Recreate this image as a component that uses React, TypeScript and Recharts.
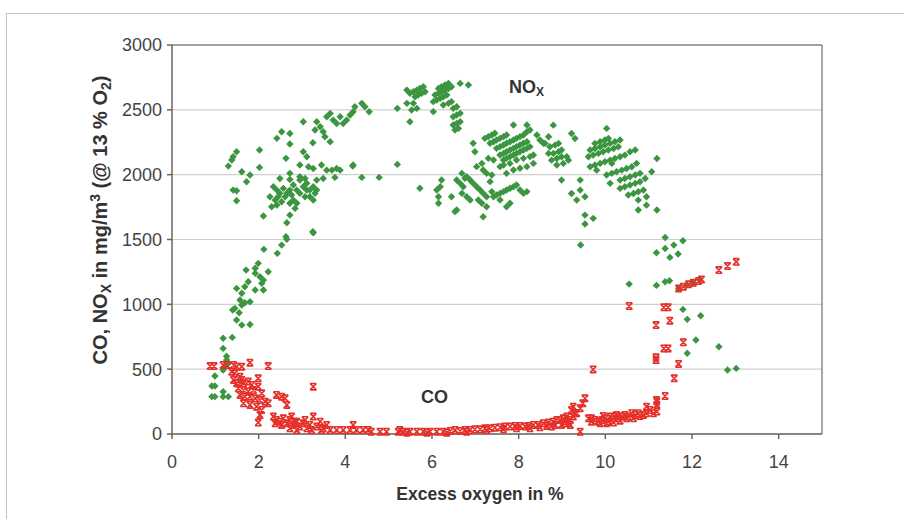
import { CartesianGrid, ReferenceLine, Scatter, ScatterChart, XAxis, YAxis } from "recharts";

// NOx readings [excess O2 %, mg/m3]
const noxLowArm = [
  [0.92, 370], [0.99, 370], [0.92, 288], [0.99, 288], [1.18, 326], [1.18, 288], [1.3, 288],
  [0.99, 447], [1.18, 493], [1.26, 570], [1.3, 545], [1.18, 660], [1.18, 738], [1.39, 745],
  [1.22, 520], [1.26, 600],
];
const noxRise = [
  [1.49, 879], [1.61, 840], [1.8, 845], [1.4, 956], [1.45, 969], [1.55, 935], [1.61, 995],
  [1.57, 1033], [1.68, 1012], [1.8, 1020], [1.49, 1123], [1.61, 1085], [1.68, 1136], [1.76, 1174],
  [1.71, 1264], [1.92, 1278], [1.99, 1316], [1.92, 1239], [2.03, 1213], [2.11, 1187], [2.07, 1162],
  [1.92, 1110], [2.11, 1110], [2.22, 1251], [2.12, 1424], [2.43, 1393], [2.53, 1457], [2.65, 1501],
  [3.26, 1552], [2.63, 1521], [2.65, 1629], [2.72, 1688], [2.11, 1681], [3.25, 1560],
];
const noxUpperLeft = [
  [1.3, 2066], [1.38, 2113], [1.49, 2177], [1.41, 2138], [1.61, 2022], [1.8, 1997], [1.72, 1945],
  [1.41, 1881], [1.49, 1876], [1.49, 1799], [2.02, 2190], [2.02, 2056], [2.42, 2280], [2.53, 2331],
  [2.72, 2318], [2.72, 2236], [2.63, 2126], [2.72, 2010], [3.03, 2408], [3.25, 2246], [3.03, 2177],
  [3.11, 2138], [2.95, 2074], [3.15, 2061], [3.34, 2408], [3.42, 2369], [3.3, 2344], [3.49, 2331],
  [3.57, 2447], [3.65, 2472], [3.72, 2421], [3.8, 2395], [3.88, 2447], [3.95, 2395], [4.03, 2421],
  [4.11, 2460], [4.18, 2485], [4.22, 2524], [4.38, 2550], [4.45, 2524], [3.53, 2292], [3.65, 2254],
  [4.55, 2485],
];
const noxLeftCluster = [
  [3.26, 2048], [3.45, 2074], [3.57, 2035], [3.69, 2035], [3.8, 2048], [3.88, 2035], [4.18, 2074],
  [4.38, 1979], [3.49, 1971], [3.76, 1979], [2.34, 1907], [2.42, 1881], [2.49, 1856], [2.57, 1894],
  [2.65, 1856], [2.72, 1881], [2.8, 1920], [2.88, 1881], [2.95, 1958], [3.03, 1907], [3.11, 1933],
  [3.18, 1881], [3.26, 1907], [3.34, 1881], [3.18, 1830], [3.26, 1804], [2.38, 1804], [2.45, 1830],
  [2.53, 1791], [2.3, 1753], [2.42, 1766], [2.8, 1804], [2.88, 1779], [2.95, 1856], [3.07, 1830],
  [3.34, 1958], [2.84, 1740], [2.72, 1779], [2.49, 1971], [2.72, 1963], [2.95, 1984], [3.07, 1971],
  [3.3, 1856], [2.61, 1830], [2.76, 1843], [3.11, 1881], [2.26, 1830], [4.17, 2066], [4.78, 1979],
  [5.2, 2079],
];
const noxTop = [
  [5.2, 2511], [5.42, 2652], [5.49, 2627], [5.57, 2640], [5.65, 2652], [5.72, 2665], [5.8, 2678],
  [5.61, 2601], [5.68, 2614], [5.76, 2627], [5.84, 2640], [5.42, 2550], [5.57, 2550], [5.53, 2498],
  [5.65, 2511], [5.49, 2408], [6.15, 2665], [6.22, 2678], [6.3, 2691], [6.38, 2704], [6.45, 2678],
  [6.07, 2614], [6.15, 2627], [6.22, 2640], [6.3, 2652], [6.38, 2665], [6.03, 2563], [6.11, 2576],
  [6.19, 2588], [6.26, 2601], [6.34, 2614], [6.03, 2486], [6.26, 2537], [6.38, 2550], [6.45, 2563],
  [6.49, 2511], [6.57, 2524], [6.49, 2447], [6.57, 2460], [6.65, 2473], [6.49, 2383], [6.57, 2395],
  [6.65, 2408], [6.53, 2344], [6.61, 2357], [6.65, 2704], [6.84, 2691],
];
const noxMiddle = [
  [7.22, 2280], [7.3, 2293], [7.38, 2306], [7.45, 2319], [7.34, 2242], [7.42, 2254], [7.49, 2267],
  [7.57, 2280], [7.65, 2293], [7.72, 2306], [7.49, 2203], [7.57, 2216], [7.65, 2229], [7.72, 2242],
  [7.8, 2254], [7.88, 2267], [7.95, 2280], [8.03, 2293], [8.11, 2306], [8.19, 2331], [7.57, 2152],
  [7.65, 2164], [7.72, 2177], [7.8, 2190], [7.88, 2203], [7.95, 2216], [8.03, 2229], [8.11, 2242],
  [8.19, 2254], [7.65, 2113], [7.72, 2126], [7.8, 2139], [7.88, 2152], [7.95, 2164], [8.03, 2177],
  [8.11, 2190], [8.19, 2203], [8.26, 2216], [7.57, 2062], [7.65, 2075], [7.8, 2087], [7.95, 2113],
  [8.11, 2126], [8.26, 2139], [8.34, 2152], [7.72, 2010], [7.88, 2036], [8.03, 2049], [8.19, 2062],
  [8.34, 2087], [7.88, 2383], [8.19, 2383], [8.26, 2344], [8.42, 2306], [8.49, 2267], [8.57, 2242],
];
const noxLowerMiddle = [
  [5.72, 1895], [6.11, 1882], [6.15, 1830], [6.15, 1779], [6.22, 1959], [6.45, 1830], [6.53, 1715],
  [6.57, 1959], [6.65, 1933], [6.72, 1907], [6.8, 1984], [6.88, 1959], [6.95, 1933], [6.69, 1856],
  [6.8, 1830], [6.88, 1805], [7.03, 1907], [7.11, 1882], [7.18, 1856], [7.26, 1830], [7.07, 1805],
  [7.15, 1779], [7.18, 1676], [7.26, 1753], [7.34, 1946], [7.38, 1869], [7.42, 1830], [7.49, 1843],
  [7.57, 1856], [7.65, 1869], [7.72, 1882], [7.8, 1895], [7.88, 1907], [7.95, 1920], [8.03, 1882],
  [8.11, 1856], [8.19, 1869], [7.57, 1805], [7.72, 1753], [7.8, 1779], [7.15, 2087], [7.18, 2036],
  [7.26, 2010], [7.38, 1997], [7.3, 2126], [7.42, 2113], [7.03, 2062], [6.95, 2242], [6.99, 2177],
  [6.69, 2010], [6.76, 1972], [6.19, 1907], [6.57, 1727],
];
const noxRight = [
  [8.8, 2382], [8.69, 2292], [8.61, 2241], [8.72, 2215], [8.84, 2228], [8.92, 2241], [8.69, 2164],
  [8.8, 2164], [8.92, 2177], [8.99, 2190], [8.76, 2112], [8.88, 2125], [8.99, 2138], [9.11, 2138],
  [8.88, 2074], [9.03, 2087], [9.15, 2112], [9.22, 2318], [9.3, 2279], [8.99, 1958], [9.42, 1958],
  [9.22, 1855], [9.42, 1881], [9.34, 1804], [9.53, 1830], [9.53, 1688], [9.72, 1663], [9.53, 1619],
  [9.43, 1458], [10.03, 2357], [9.76, 2241], [9.88, 2254], [9.99, 2267], [10.07, 2279], [9.65, 2190],
  [9.76, 2202], [9.88, 2215], [9.99, 2228], [10.11, 2241], [10.22, 2254], [10.34, 2267], [9.61, 2138],
  [9.72, 2151], [9.84, 2164], [9.95, 2177], [10.07, 2190], [10.19, 2202], [10.3, 2215], [9.65, 2061],
  [9.76, 2074], [9.88, 2087], [9.99, 2100], [10.11, 2112], [10.22, 2125], [10.34, 2138], [10.45, 2151],
  [10.57, 2177], [10.69, 2190], [10.03, 1997], [10.15, 2010], [10.26, 2022], [10.38, 2035], [10.49, 2048],
  [10.61, 2061], [10.72, 2087], [10.11, 1933], [10.34, 1958], [10.45, 1971], [10.57, 1984], [10.69, 1997],
  [10.8, 2010], [10.34, 1894], [10.45, 1907], [10.57, 1920], [10.69, 1933], [10.8, 1945], [10.92, 1971],
  [10.53, 1843], [10.65, 1855], [10.76, 1868], [10.88, 1881], [10.76, 1804], [10.95, 1830], [10.95, 1765],
  [10.76, 1727], [11.19, 1727], [11.07, 2022], [11.19, 2125], [10.15, 2087], [9.8, 2035],
];
const noxTail = [
  [11.38, 1516], [11.18, 1398], [11.38, 1431], [11.58, 1457], [11.79, 1490], [11.49, 1362], [11.68, 1388],
  [10.55, 1156], [11.18, 1146], [11.38, 1174], [11.48, 1182], [11.69, 1123], [11.88, 1149], [12.03, 1167],
  [12.18, 1187], [11.79, 961], [11.89, 884], [12.2, 912], [12.09, 725], [11.89, 622], [12.62, 673],
  [12.82, 493], [13.02, 506],
];

// CO readings
const coLeft = [
  [0.88, 524], [0.97, 524], [1.18, 532], [1.26, 532], [1.42, 532], [1.49, 519], [1.61, 519], [1.8, 550],
  [2.22, 524], [1.38, 481], [1.45, 468], [1.57, 442], [1.61, 417], [1.42, 417], [1.49, 391], [1.65, 391],
  [1.76, 404], [1.84, 378], [1.99, 429], [1.99, 365], [1.53, 352], [1.65, 339], [1.76, 327], [1.88, 339],
  [2.07, 314], [1.57, 301], [1.68, 288], [1.8, 288], [1.92, 275], [2.03, 262], [2.15, 249], [2.22, 237],
  [1.65, 237], [1.8, 224], [1.95, 211], [2.07, 185], [2.03, 147], [1.99, 88], [2.41, 301], [2.53, 288],
  [2.61, 275], [2.65, 224], [3.26, 365],
];
const coFloor = [
  [2.34, 134], [2.41, 108], [2.49, 95], [2.57, 121], [2.65, 82], [2.72, 108], [2.8, 70], [2.88, 95],
  [2.95, 57], [3.03, 82], [3.11, 44], [3.18, 70], [3.26, 134], [3.34, 57], [3.42, 95], [3.49, 44],
  [3.57, 70], [3.65, 31], [3.8, 31], [3.95, 31], [4.18, 70], [4.11, 31], [4.26, 31], [4.41, 31],
  [4.53, 31], [2.38, 82], [2.53, 70], [2.72, 44], [2.88, 31], [2.76, 134], [2.84, 95], [3.07, 108],
  [3.22, 31], [3.45, 31], [4.6, 18], [4.8, 18], [4.95, 18], [5.22, 18], [5.26, 31], [5.34, 18],
  [5.49, 18], [5.65, 18], [5.8, 18], [5.95, 18], [6.11, 18], [6.26, 18], [6.42, 23], [6.53, 31],
  [6.65, 23], [6.76, 31], [6.88, 31], [6.99, 36], [7.11, 36], [7.22, 44], [7.34, 44], [7.45, 49],
  [7.57, 52], [7.68, 57], [7.8, 57], [7.92, 62], [8.03, 62], [8.15, 57], [8.22, 62], [8.34, 70],
  [8.45, 70], [8.57, 83], [8.69, 88], [8.8, 95], [8.88, 108], [8.95, 108], [9.03, 121], [9.11, 134],
  [9.15, 95], [9.07, 83], [8.99, 70], [8.84, 70], [8.76, 57], [8.65, 62], [8.49, 52], [8.26, 44],
  [7.95, 44], [7.65, 36], [7.26, 31], [6.8, 18], [6.34, 10], [5.88, 10], [5.42, 10], [9.19, 70],
  [9.22, 185], [9.26, 211], [9.48, 237], [9.42, 198], [9.34, 160], [9.26, 134], [9.19, 108], [9.42, 18],
  [9.3, 160],
];
const coBand = [
  [9.61, 121], [9.68, 95], [9.76, 108], [9.84, 95], [9.92, 108], [9.99, 121], [10.07, 95], [10.15, 108],
  [10.22, 134], [10.3, 121], [10.38, 134], [10.45, 147], [10.53, 134], [10.61, 160], [10.69, 147],
  [10.76, 160], [9.68, 121], [9.88, 83], [10.03, 83], [10.19, 88], [10.34, 103], [10.49, 121],
  [10.65, 121], [10.8, 139], [10.11, 134], [9.95, 139], [10.26, 147], [10.88, 147], [10.95, 160],
  [11.11, 160], [11.19, 173], [11.03, 185], [10.95, 211], [11.19, 224], [11.19, 250],
];
const coRise = [
  [9.72, 498], [9.53, 275], [11.38, 293], [11.18, 262], [11.59, 429], [11.69, 540], [11.17, 591],
  [11.17, 570], [11.35, 660], [11.45, 660], [11.8, 707], [11.17, 840], [11.49, 874], [11.35, 977],
  [11.45, 977], [10.55, 987], [11.69, 1123], [11.8, 1136], [11.92, 1154], [12.03, 1167], [12.15, 1180],
  [12.22, 1192], [12.62, 1264], [12.82, 1295], [13.02, 1328],
];

const xTicks = [0, 2, 4, 6, 8, 10, 12, 14];
const yTicks = [0, 500, 1000, 1500, 2000, 2500, 3000];

const toPoints = (...groups: number[][][]) => groups.flat().map(([x, y]) => ({ x, y }));
const noxData = toPoints(noxLowArm, noxRise, noxUpperLeft, noxLeftCluster, noxTop, noxMiddle, noxLowerMiddle, noxRight, noxTail);
const coData = toPoints(coLeft, coFloor, coBand, coRise);

const GREEN = "#3b963f";
const RED = "#e5302a";
const FONT = "'Liberation Sans', Arial, sans-serif";

const Diamond = (props: any) => {
  const { cx, cy } = props;
  if (cx == null || cy == null) return null;
  return <path d={`M${cx},${cy - 3.7}L${cx + 3.7},${cy}L${cx},${cy + 3.7}L${cx - 3.7},${cy}Z`} fill={GREEN} />;
};

// Excel-style "x" marker: a cross closed by bars top and bottom
const Cross = (props: any) => {
  const { cx, cy } = props;
  if (cx == null || cy == null) return null;
  const s = 3.2;
  return (
    <path
      d={`M${cx - s},${cy - s}L${cx + s},${cy - s}M${cx - s},${cy + s}L${cx + s},${cy + s}M${cx - s},${cy - s}L${cx + s},${cy + s}M${cx + s},${cy - s}L${cx - s},${cy + s}`}
      stroke={RED}
      strokeWidth={1.6}
      fill="none"
    />
  );
};

export default function App() {
  return (
    <div style={{ position: "absolute", left: 0, top: 0, width: 904, height: 519, background: "#fff", fontFamily: FONT }}>
      <div style={{ position: "absolute", left: 6, top: 13, right: 0, bottom: 0, borderTop: "1px solid #c4c4c4", borderLeft: "1px solid #c4c4c4" }} />
      <ScatterChart width={904} height={519} margin={{ top: 45, right: 82, bottom: 55, left: 102 }} style={{ position: "absolute", left: 0, top: 0 }}>
        <CartesianGrid vertical={false} stroke="#cfcfcf" strokeWidth={1.2} />
        <XAxis
          type="number"
          dataKey="x"
          domain={[0, 15]}
          ticks={xTicks}
          height={30}
          stroke="#666"
          strokeWidth={1.5}
          tickSize={5}
          tickMargin={16}
          tick={{ fontSize: 18, fill: "#444", fontFamily: FONT }}
        />
        <YAxis
          type="number"
          dataKey="y"
          domain={[0, 3000]}
          ticks={yTicks}
          width={70}
          stroke="#666"
          strokeWidth={1.5}
          tickSize={5}
          tickMargin={5}
          tick={{ fontSize: 18, fill: "#444", fontFamily: FONT }}
        />
        <ReferenceLine y={3000} stroke="#8a8a8a" strokeWidth={1.5} />
        <ReferenceLine x={15} stroke="#8a8a8a" strokeWidth={1.5} />
        <Scatter name="NOx" data={noxData} shape={Diamond} isAnimationActive={false} />
        <Scatter name="CO" data={coData} shape={Cross} isAnimationActive={false} />
      </ScatterChart>
      <svg width={904} height={519} style={{ position: "absolute", left: 0, top: 0, pointerEvents: "none" }}>
        <text x={509} y={93} fontSize={18} fontWeight="bold" fill="#333" fontFamily={FONT}>
          NO<tspan fontSize={12} dy={3}>X</tspan>
        </text>
        <text x={421} y={403} fontSize={18} fontWeight="bold" fill="#333" fontFamily={FONT}>
          CO
        </text>
        <text x={480} y={500} fontSize={17.5} fontWeight="bold" fill="#333" fontFamily={FONT} textAnchor="middle">
          Excess oxygen in %
        </text>
        <text transform="translate(107,220) rotate(-90)" fontSize={20} fontWeight="bold" fill="#333" fontFamily={FONT} textAnchor="middle">
          CO, NO<tspan fontSize={14} dy={4}>X</tspan>
          <tspan dy={-4}> in mg/m</tspan>
          <tspan fontSize={14} dy={-7}>3</tspan>
          <tspan dy={7}> (@ 13 % O</tspan>
          <tspan fontSize={14} dy={4}>2</tspan>
          <tspan dy={-4}>)</tspan>
        </text>
      </svg>
    </div>
  );
}
